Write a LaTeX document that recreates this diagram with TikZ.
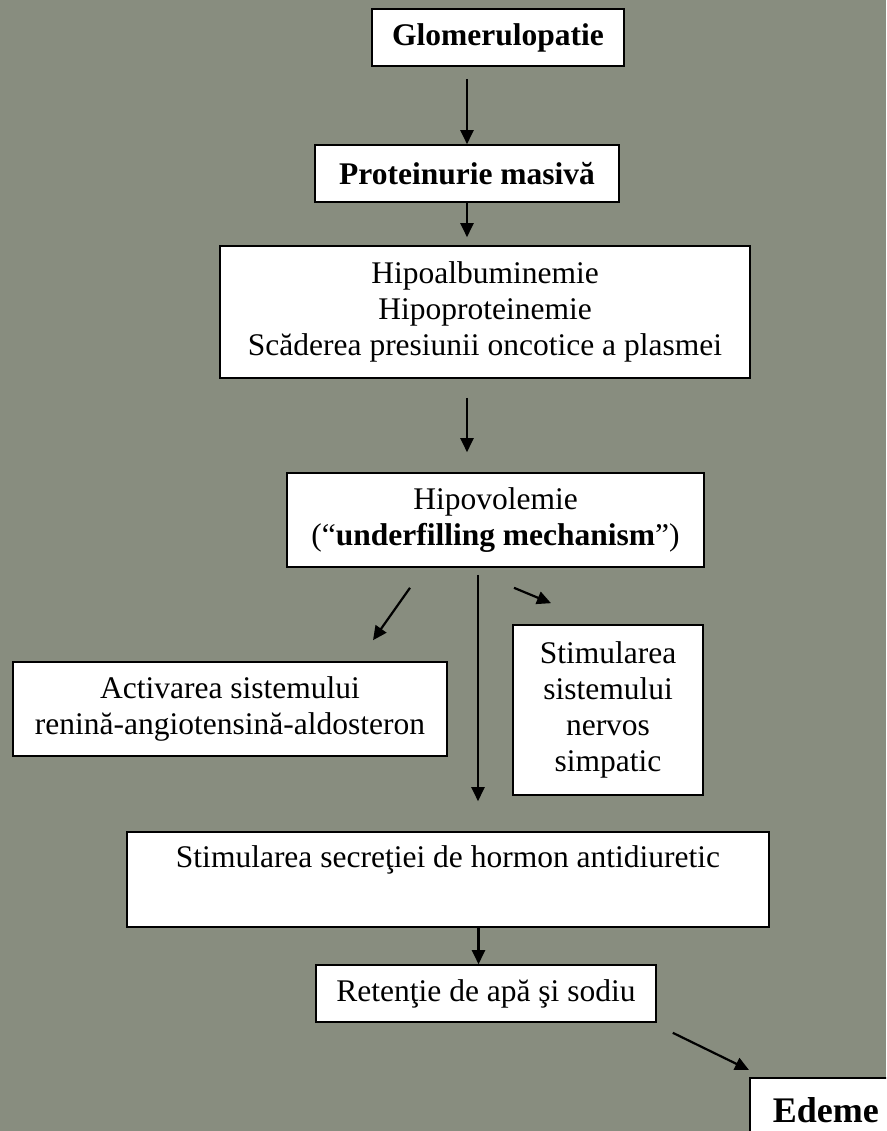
\documentclass[tikz,border=0pt]{standalone}
\usepackage{fontspec}
\setmainfont{Liberation Serif}
\usepackage{tikz}
\usetikzlibrary{arrows.meta}
\definecolor{bgc}{RGB}{136,141,127}
\newcommand{\flowfont}{\fontsize{31.5}{36}\selectfont}

\begin{document}
\begin{tikzpicture}[x=1pt, y=-1pt,
    blk/.style={draw, line width=1.6pt, fill=white, inner sep=0pt, align=center, font=\flowfont},
    arr/.style={line width=2.2pt, -{Triangle[length=14pt, width=13pt]}}]
    \fill[bgc] (0,0) rectangle (886,1131);
    \clip (0,0) rectangle (886,1131);
    \node[blk, minimum width=252pt, minimum height=57pt, font=\flowfont\bfseries] (glom) at (498,37.5) {Glomerulopatie};
    \node[blk, minimum width=304pt, minimum height=57pt, font=\flowfont\bfseries] (prot) at (467,173.5) {Proteinurie masivă};
    \node[blk, minimum width=530pt, minimum height=132pt] (hipoalb) at (485,312) {Hipoalbuminemie\\Hipoproteinemie\\Scăderea presiunii oncotice a plasmei};
    \node[blk, minimum width=417pt, minimum height=94pt] (hipovol) at (495.5,520) {Hipovolemie\\(“\textbf{underfilling mechanism}”)};
    \node[blk, minimum width=434pt, minimum height=94pt] (act) at (230,709) {Activarea sistemului\\renină-angiotensină-aldosteron};
    \node[blk, minimum width=190pt, minimum height=170pt] (nerv) at (608,710) {Stimularea\\sistemului\\nervos\\simpatic};
    \node[blk, minimum width=642pt, minimum height=95pt] (stimsec) at (448,879.5) {Stimularea secreţiei de hormon antidiuretic\\\strut};
    \node[blk, minimum width=340pt, minimum height=57pt] (ret) at (486,993.5) {Retenţie de apă şi sodiu};
    \node[blk, anchor=north west, text depth=0pt, inner xsep=23pt, inner ysep=20pt,
        align=left, font=\fontsize{36}{40}\selectfont\bfseries] (edeme) at (749,1077) {Edeme\hspace{80pt}};
    \coordinate (rt) at ([xshift=-7.5pt]ret.north);

    \draw[arr, shorten <=12pt] (glom.south -| prot.north) -- (prot.north);
    \draw[arr, shorten >=8pt] (prot.south) -- (prot.south |- hipoalb.north);
    \draw[arr, shorten <=19pt, shorten >=20pt] (hipoalb.south -| prot.south) -- (prot.south |- hipovol.north);
    \draw[arr] ([shift={(-85.5,20)}]hipovol.south) -- ([shift={(143,-21)}]act.north);
    \draw[arr, shorten <=7pt, shorten >=30pt] ([xshift=-17.5pt]hipovol.south) -- ([xshift=-17.5pt]hipovol.south |- stimsec.north);
    \draw[arr] ([shift={(18.5,20)}]hipovol.south) -- ([shift={(-57,-21)}]nerv.north);
    \draw[arr] (rt |- stimsec.south) -- (rt);
    \draw[arr] ([shift={(16,10)}]ret.south east) -- ([shift={(0,-7)}]edeme.north west);
\end{tikzpicture}
\end{document}
